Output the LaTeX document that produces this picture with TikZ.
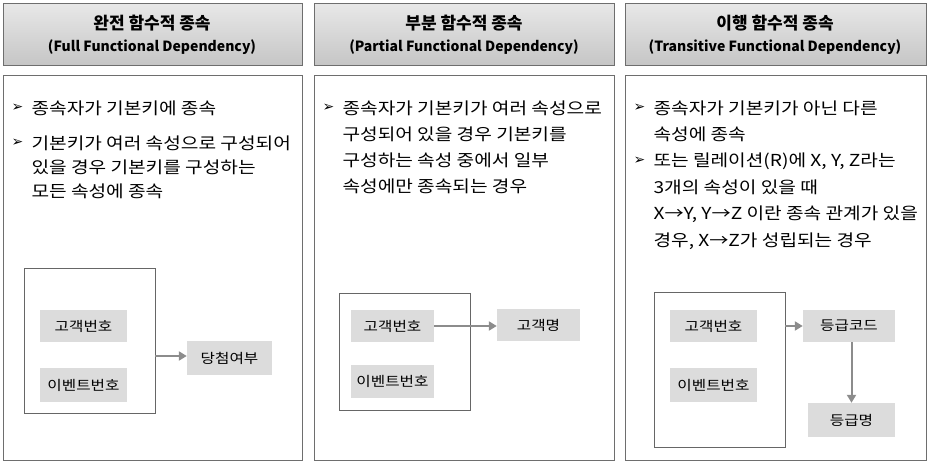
\documentclass[tikz,border=0pt]{standalone}
\usepackage{fontspec}
\setmainfont{Noto Sans CJK KR}
\newfontfamily\wide[FakeStretch=1.16]{Noto Sans CJK KR}
\newfontfamily\dejavu{DejaVu Sans}
\usetikzlibrary{arrows.meta}
\definecolor{boxg}{HTML}{DCDCDC}
\definecolor{arrg}{HTML}{8C8C8C}
\definecolor{frameg}{HTML}{6E6E6E}
\tikzset{
  hdr/.style={draw=frameg, top color=gray!18, bottom color=gray!45, line width=0.8pt},
  panel/.style={draw=frameg, line width=0.8pt},
  outer/.style={draw=gray!80!black, line width=0.6pt},
  gbox/.style={fill=boxg, font=\wide\fontsize{13.5}{15}\selectfont},
  arr/.style={draw=arrg, line width=2pt, -{Triangle[length=8pt,width=9pt]}},
  txt/.style={anchor=west, font=\wide\fontsize{16.5}{18}\selectfont},
  bul/.style={anchor=west, font=\dejavu\fontsize{14}{16}\selectfont}
}
\begin{document}
\begin{tikzpicture}[x=1pt,y=-1pt]
\useasboundingbox (0,0) rectangle (931,463);
% headers
\foreach \a/\b/\n in {3/302/h1,314/614/h2,625/926/h3}{
  \draw[hdr] (\a,3) rectangle (\b,65);
  \draw[panel] (\a,75) rectangle (\b,460);
}
\node[font=\bfseries\fontsize{17}{20}\selectfont] (t1) at (152,23) {완전 함수적 종속};
\node[font=\bfseries\fontsize{14}{17}\selectfont] (e1) at (152,47) {(Full Functional Dependency)};
\node[font=\bfseries\fontsize{17}{20}\selectfont] (t2) at (464,23) {부분 함수적 종속};
\node[font=\bfseries\fontsize{14}{17}\selectfont] (e2) at (464,47) {(Partial Functional Dependency)};
\node[font=\bfseries\fontsize{17}{20}\selectfont] (t3) at (775,23) {이행 함수적 종속};
\node[font=\bfseries\fontsize{14}{17}\selectfont] (e3) at (775,47) {(Transitive Functional Dependency)};
% column 1 text
\node[bul] (b11) at (8,108) {➢};
\node[txt] (l11) at (28,108) {종속자가 기본키에 종속};
\node[bul] (b12) at (8,143) {➢};
\node[txt] (l12) at (28,143) {기본키가 여러 속성으로 구성되어};
\node[txt] (l13) at (28,167) {있을 경우 기본키를 구성하는};
\node[txt] (l14) at (28,191) {모든 속성에 종속};
% column 2 text
\node[bul] (b21) at (319,108) {➢};
\node[txt] (l21) at (339,108) {종속자가 기본키가 여러 속성으로};
\node[txt] (l22) at (339,134) {구성되어 있을 경우 기본키를};
\node[txt] (l23) at (339,160) {구성하는 속성 중에서 일부};
\node[txt] (l24) at (339,186) {속성에만 종속되는 경우};
% column 3 text
\node[bul] (b31) at (630,108) {➢};
\node[txt] (l31) at (650,108) {종속자가 기본키가 아닌 다른};
\node[txt] (l32) at (650,134) {속성에 종속};
\node[bul] (b32) at (630,161) {➢};
\node[txt] (l33) at (650,161) {또는 릴레이션(R)에 X, Y, Z라는};
\node[txt] (l34) at (650,187) {3개의 속성이 있을 때};
\node[txt] (l35) at (650,214) {X→Y, Y→Z 이란 종속 관계가 있을};
\node[txt] (l36) at (650,241) {경우, X→Z가 성립되는 경우};
% diagram 1
\draw[outer] (24,268) rectangle (155,413);
\coordinate (o1) at (155,356);
\node[gbox, minimum width=87pt, minimum height=32pt] (k1) at (83.5,326) {고객번호};
\node[gbox, minimum width=87pt, minimum height=34pt] (v1) at (83.5,385) {이벤트번호};
\node[gbox, minimum width=85pt, minimum height=34pt] (r1) at (229.5,358) {당첨여부};
\draw[arr] (o1) -- (r1.west |- o1);
% diagram 2
\draw[outer] (339,293) rectangle (470,410);
\node[gbox, minimum width=83pt, minimum height=32pt] (k2) at (392.5,326) {고객번호};
\node[gbox, minimum width=83pt, minimum height=33pt] (v2) at (392.5,381.5) {이벤트번호};
\node[gbox, minimum width=83pt, minimum height=32pt] (r2) at (538.5,325) {고객명};
\draw[arr] (k2.east) -- (r2.west |- k2.east);
% diagram 3
\draw[outer] (654,292) rectangle (785,447);
\coordinate (o3) at (785,326);
\node[gbox, minimum width=87pt, minimum height=32pt] (k3) at (713.5,326) {고객번호};
\node[gbox, minimum width=87pt, minimum height=34pt] (v3) at (713.5,385) {이벤트번호};
\node[gbox, minimum width=92pt, minimum height=32pt] (r3) at (849,326) {등급코드};
\node[gbox, minimum width=87pt, minimum height=34pt] (s3) at (851.5,420) {등급명};
\draw[arr] (o3) -- (r3.west);
\draw[arr] (r3.south -| s3.north) -- (s3.north);
\end{tikzpicture}
\end{document}
